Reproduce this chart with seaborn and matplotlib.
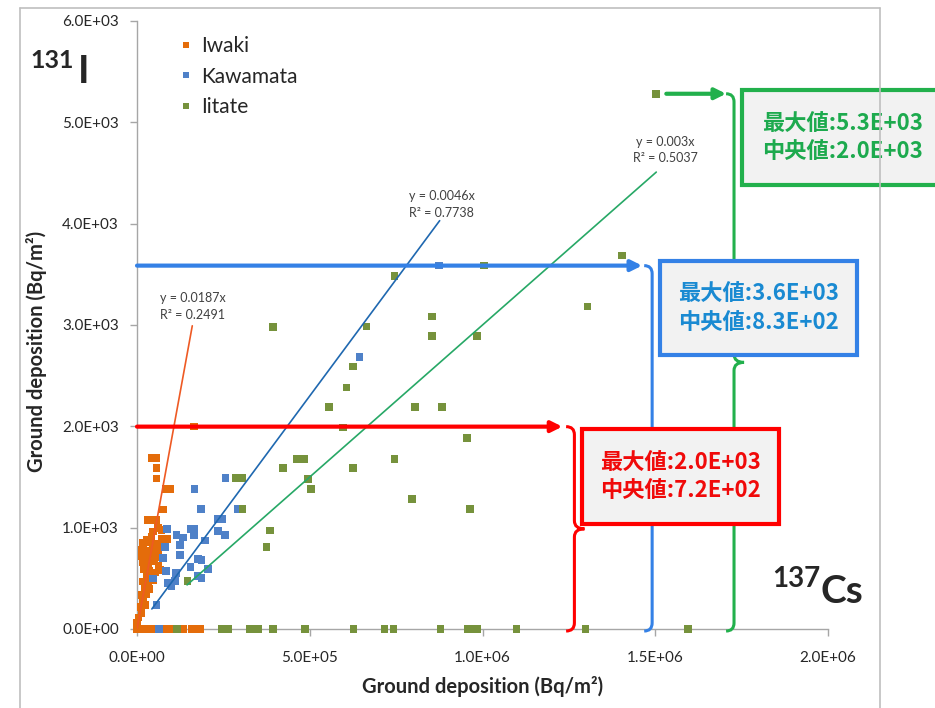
import matplotlib
matplotlib.use("Agg")
import pandas as pd
import matplotlib.pyplot as plt
import seaborn as sns
from matplotlib.patches import Rectangle, PathPatch
from matplotlib.path import Path
from matplotlib.lines import Line2D
from matplotlib.ticker import FuncFormatter, MultipleLocator

# --- data: 137Cs (x) vs 131I (y) ground deposition, Bq/m2 ---
sites = ["Iwaki", "Kawamata", "Iitate"]

iwaki_cs = [41400, 55900, 55900, 55900, 84800, 96300, 76000, 71300, 31800, 43300,
            55900, 73200, 87700, 46200, 60700, 27000, 41400, 17300, 33700, 51100,
            62600, 14400, 29900, 46200, 60700, 12500, 27000, 41400, 55900, 17300,
            33700, 49100, 62600, 20200, 36600, 53000, 68400, 27000, 41400, 17300,
            31800, 46200, 22200, 36600, 12500, 27000, 17300, 10600, 24100, 12500,
            4800, 0, 0, 165600,
            0, 11600, 26000, 40500, 52000, 75000, 89600, 104000, 133000, 159000,
            173000, 182000]
iwaki_i = [1685, 1685, 1586, 1487, 1382, 1382, 1181, 977, 1076, 1076,
           1076, 888, 888, 961, 994, 879, 911, 846, 852, 839,
           813, 780, 773, 786, 763, 721, 714, 730, 707, 655,
           642, 665, 622, 589, 576, 556, 583, 523, 510, 467,
           457, 477, 411, 392, 336, 346, 270, 220, 237, 155,
           115, 63, 23, 1997,
           0, 0, 0, 0, 0, 0, 0, 0, 0, 0,
           0, 0]

kawamata_cs = [256300, 166200, 185800, 292800, 235000, 245700, 87600, 157000, 166800,
               165600, 114700, 133800, 235000, 254300, 81800, 124300, 196500, 124300,
               75100, 177200, 187000, 155200, 206000, 84700, 112700, 175400, 187000,
               109800, 46200, 89600, 100300, 56400, 644500, 873700, 63600]
kawamata_i = [1488, 1382, 1182, 1182, 1083, 1083, 984, 984, 984,
              928, 928, 903, 967, 928, 812, 829, 874, 730,
              698, 688, 678, 612, 592, 573, 550, 523, 506,
              474, 500, 451, 418, 237, 2682, 3586, 0]

iitate_cs = [394000, 422800, 461500, 482600, 495000, 504300, 305500, 285200, 304300,
             385800, 374800, 146000, 853400, 853400, 984600, 1304300, 625100, 606000,
             555700, 805400, 883500, 596200, 954600, 745600, 625100, 795600, 964400,
             663800, 1502000, 1403600, 1003700, 745600,
             115600, 245700, 263000, 326600, 338000, 349700, 393000, 485600, 627000,
             716600, 742700, 878600, 956600, 971000, 985500, 1098000, 1297600, 1595000]
iitate_i = [2978, 1586, 1678, 1678, 1481, 1382, 1182, 1488, 1488,
            972, 812, 474, 3083, 2892, 2892, 3182, 2589, 2382,
            2189, 2189, 2189, 1987, 1883, 1678, 1586, 1283, 1182,
            2984, 5282, 3685, 3587, 3485,
            0, 0, 0, 0, 0, 0, 0, 0, 0,
            0, 0, 0, 0, 0, 0, 0, 0, 0]

# linear trend lines through origin (slope, R2, x range drawn)
fit_slope = [0.0187, 0.0046, 0.003]
fit_r2 = [0.2491, 0.7738, 0.5037]
fit_x0 = [0, 43000, 145000]
fit_x1 = [160000, 876000, 1503000]

# values written in the boxes
box_max = [2.0e3, 3.6e3, 5.3e3]
box_median = [7.2e2, 8.3e2, 2.0e3]

point_colors = {"Iwaki": "#E46C0A", "Kawamata": "#4F81C8", "Iitate": "#76923C"}
fit_colors = ["#EE5A24", "#1F68B0", "#27A866"]
note_colors = ["#FF0000", "#3481E6", "#22B04C"]
box_text_colors = ["#F00A0A", "#1A8AD2", "#1DAA4E"]

sns.set_style("white")
plt.rcParams["font.family"] = ["Lato", "Noto Sans CJK JP", "DejaVu Sans"]

df = pd.concat([
    pd.DataFrame({"cs": iwaki_cs, "i": iwaki_i, "site": "Iwaki"}),
    pd.DataFrame({"cs": kawamata_cs, "i": kawamata_i, "site": "Kawamata"}),
    pd.DataFrame({"cs": iitate_cs, "i": iitate_i, "site": "Iitate"}),
])

W, H = 935, 708
fig = plt.figure(figsize=(W / 100, H / 100), dpi=100)
ax = fig.add_axes([137 / W, 79 / H, 691 / W, 608 / H])

sns.scatterplot(data=df, x="cs", y="i", hue="site", hue_order=sites,
                palette=point_colors, marker="s", s=30, linewidth=0,
                clip_on=False, zorder=3, ax=ax)

ax.set_xlim(0, 2.0e6)
ax.set_ylim(0, 6.0e3)
ax.xaxis.set_major_locator(MultipleLocator(5e5))
ax.yaxis.set_major_locator(MultipleLocator(1e3))
sci = FuncFormatter(lambda v, p: f"{v:.1E}")
ax.xaxis.set_major_formatter(sci)
ax.yaxis.set_major_formatter(sci)
ax.tick_params(axis="x", bottom=True, direction="out", length=5, width=1,
               color="#A6A6A6", pad=11, labelsize=11, labelcolor="#262626")
ax.tick_params(axis="y", left=True, direction="out", length=5, width=1,
               color="#A6A6A6", pad=8, labelsize=11, labelcolor="#262626")
for side in ["top", "right"]:
    ax.spines[side].set_visible(False)
for side in ["left", "bottom"]:
    ax.spines[side].set_color("#A6A6A6")
    ax.spines[side].set_linewidth(1)

ax.set_xlabel("Ground deposition (Bq/m²)", fontsize=14.5, fontweight="bold")
ax.set_ylabel("Ground deposition (Bq/m²)", fontsize=14.5, fontweight="bold")
ax.xaxis.set_label_coords(0.5, -0.078)
ax.yaxis.set_label_coords(-0.13, 0.457)

sns.move_legend(ax, "upper left", bbox_to_anchor=(0.0593, 0.975), frameon=False,
                title=None, fontsize=15, borderpad=0, borderaxespad=0,
                handlelength=0.8, handletextpad=0.3, labelspacing=0.5,
                markerscale=0.7)

# trend lines and their equations
label_pos = [(161800, 3184), (881500, 4191), (1528800, 4729)]
for k in range(3):
    xs = [fit_x0[k], fit_x1[k]]
    ax.plot(xs, [fit_slope[k] * v for v in xs], color=fit_colors[k], lw=1.2, zorder=4)
    ax.text(label_pos[k][0], label_pos[k][1],
            f"y = {fit_slope[k]}x\nR² = {fit_r2[k]}", ha="center", va="center",
            fontsize=9, color="#404040", linespacing=1.45, zorder=6)


def bracket(x0, xb, xn, ytop, ybot, color, r=80):
    ymid = (ytop + ybot) / 2
    verts = [(x0, ytop), (xb, ytop), (xb, ytop - r),
             (xb, ymid + r),
             (xb, ymid), (xn, ymid),
             (xb, ymid), (xb, ymid - r),
             (xb, ybot + r),
             (xb, ybot), (x0, ybot)]
    codes = [Path.MOVETO, Path.CURVE3, Path.CURVE3,
             Path.LINETO,
             Path.CURVE3, Path.CURVE3,
             Path.CURVE3, Path.CURVE3,
             Path.LINETO,
             Path.CURVE3, Path.CURVE3]
    ax.add_patch(PathPatch(Path(verts, codes), fill=False, edgecolor=color,
                           lw=2.2, clip_on=False, zorder=5))


series_max = [max(iwaki_i), max(kawamata_i), max(iitate_i)]
arrow_x0 = [0, 0, 1532000]
arrow_x1 = [1231000, 1462000, 1705000]
bracket_x = [(1242000, 1266000, 1295000), (1468000, 1491000, 1520000),
             (1705000, 1728000, 1757000)]
box_rect = [(1289000, 1037, 569000, 937), (1514000, 2705, 570000, 928),
            (1751000, 4383, 580000, 938)]

for k in range(3):
    y = series_max[k]
    ax.annotate("", xy=(arrow_x1[k], y), xytext=(arrow_x0[k], y),
                arrowprops=dict(arrowstyle="-|>", color=note_colors[k], lw=3,
                                mutation_scale=16, shrinkA=0, shrinkB=0),
                annotation_clip=False, zorder=5)
    bx0, bxb, bxn = bracket_x[k]
    bracket(bx0, bxb, bxn, y, -20, note_colors[k])

for k in range(3):
    x0, y0, w, h = box_rect[k]
    ax.add_patch(Rectangle((x0, y0), w, h, facecolor="#F2F2F2",
                           edgecolor=note_colors[k], lw=3, clip_on=False, zorder=7))
    ax.text(x0 + w / 2, y0 + h / 2,
            f"最大値:{box_max[k]:.1E}\n中央値:{box_median[k]:.1E}",
            ha="center", va="center", fontsize=16, fontweight="bold",
            color=box_text_colors[k], family=["Noto Sans CJK JP"],
            linespacing=1.3, zorder=8, clip_on=False)

# isotope tags
fig.text(30 / W, 1 - 68 / H, "131", fontsize=18, fontweight="bold", va="baseline")
fig.text(78 / W, 1 - 83 / H, "I", fontsize=28, fontweight="bold", va="baseline")
fig.text(772 / W, 1 - 587 / H, "137", fontsize=20, fontweight="bold", va="baseline")
fig.text(820 / W, 1 - 603 / H, "Cs", fontsize=28, fontweight="bold", va="baseline")

# light grey chart-area border
frame = dict(color="#BFBFBF", lw=1.2)
fig.add_artist(Line2D([20 / W, 20 / W], [0, 1 - 8 / H], **frame))
fig.add_artist(Line2D([20 / W, 880 / W], [1 - 8 / H, 1 - 8 / H], **frame))
fig.add_artist(Line2D([880 / W, 880 / W], [0, 1 - 8 / H], **frame))

fig.savefig("out.png", dpi=100)
